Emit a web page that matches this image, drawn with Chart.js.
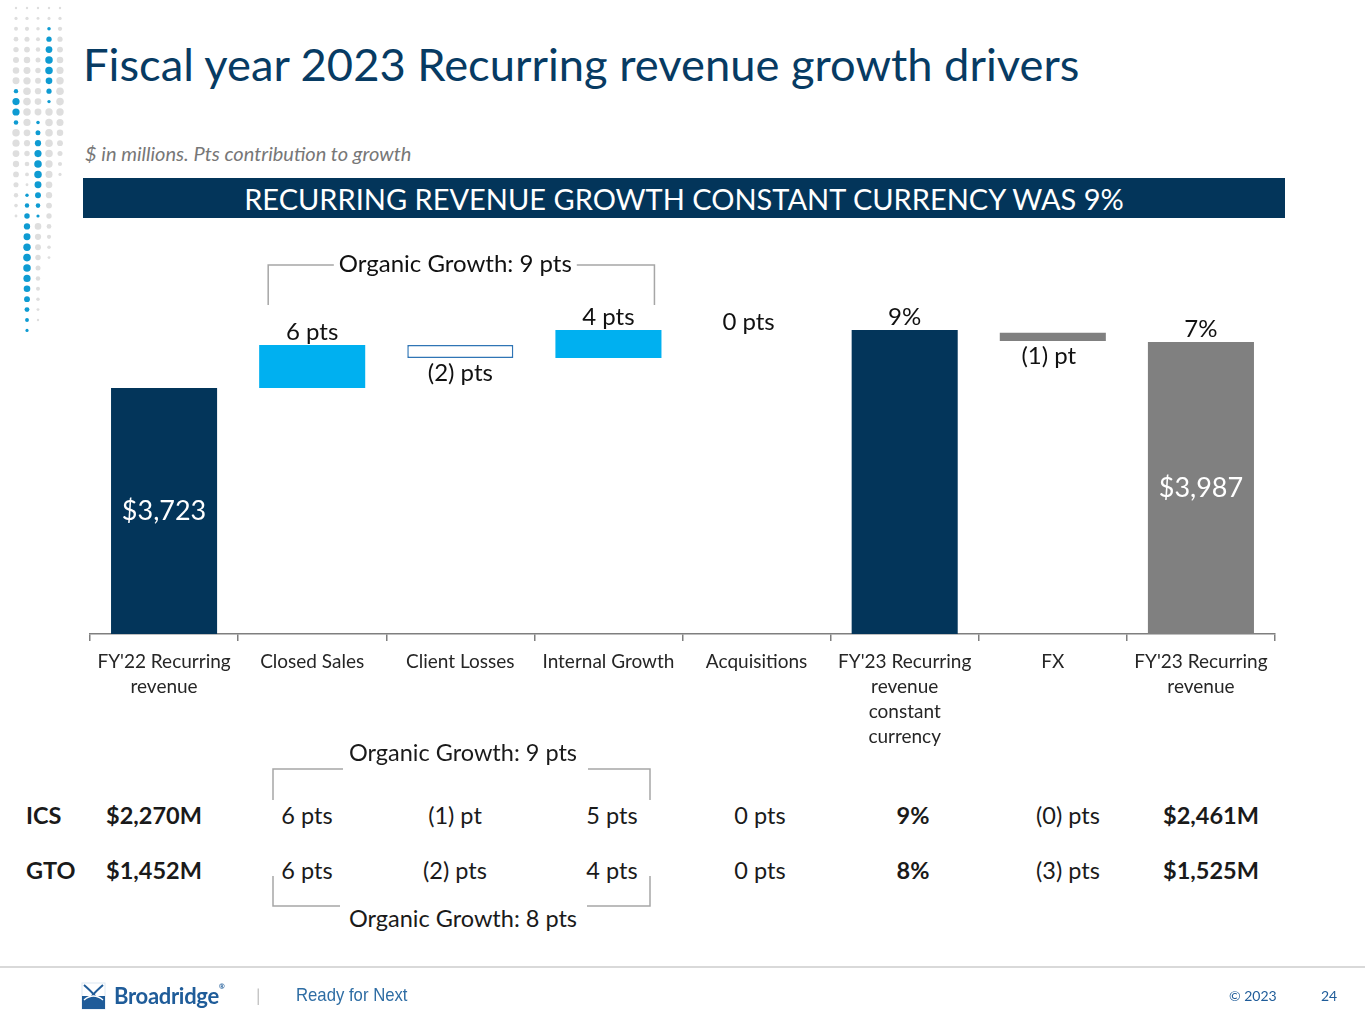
<!DOCTYPE html>
<html>
<head>
<meta charset="utf-8">
<title>Fiscal year 2023 Recurring revenue growth drivers</title>
<script src="https://cdn.jsdelivr.net/npm/chart.js@4.4.1/dist/chart.umd.min.js"></script>
<style>
  body { margin: 0; width: 1365px; height: 1024px; position: relative; overflow: hidden; background: #fff; font-family: Lato, "Open Sans", sans-serif; color: #1a1a1a; }
  .abs { position: absolute; white-space: nowrap; }
  .c { transform: translate(-50%, -50%); }
  .l { transform: translateY(-50%); }
  #title { left: 83px; top: 36px; font-size: 45.3px; color: #073B63; }
  #sub { left: 85px; top: 141px; font-size: 20px; font-style: italic; color: #777777; }
  #banner { left: 83px; top: 178px; width: 1202px; height: 40px; background: #03355A; color: #fff; font-size: 29px; line-height: 42px; text-align: center; }
  #chartBox { position: absolute; left: 0; top: 220px; width: 1365px; height: 560px; }
  .cell { font-size: 23.5px; }
  .b { font-weight: bold; }
  #rule { left: 0; top: 966px; width: 1365px; height: 2px; background: #d9d9d9; }
</style>
</head>
<body>
<canvas id="dots" class="abs" width="70" height="350" style="left:0;top:0"></canvas>
<div id="title" class="abs">Fiscal year 2023 Recurring revenue growth drivers</div>
<div id="sub" class="abs">$ in millions. Pts contribution to growth</div>
<div id="banner" class="abs">RECURRING REVENUE GROWTH CONSTANT CURRENCY WAS 9%</div>
<div id="chartBox"><canvas id="bridge"></canvas></div>
<div id="table"></div>
<svg class="abs" style="left:0;top:0" width="1365" height="1024">
  <g stroke="#a6a6a6" stroke-width="1.5" fill="none">
    <polyline points="273,800 273,769 343,769" />
    <polyline points="588,769 650,769 650,800" />
    <polyline points="273,876 273,906 340,906" />
    <polyline points="587,906 650,906 650,876" />
  </g>
  <!-- footer logo -->
  <rect x="82" y="983" width="23" height="26" fill="#ffffff" stroke="#dce8f2" />
  <rect x="82" y="996" width="23" height="13" fill="#1F5C99" />
  <path d="M84,985 C92,992 96,996 103,1008 M103,985 C95,992 91,996 84,1008" stroke="#1F5C99" stroke-width="2" fill="none" />
  <path d="M84,1000 C90,995 97,995 103,1000" stroke="#ffffff" stroke-width="1.5" fill="none" />
</svg>
<div class="abs" style="left:114px;top:982px;font-size:22px;font-weight:bold;color:#1F5C99;letter-spacing:-0.3px">Broadridge<span style="font-size:7px;vertical-align:top">&reg;</span></div>
<div class="abs" style="left:256px;top:984px;font-size:18px;color:#bfbfbf">|</div>
<div class="abs" style="left:296px;top:984px;font-size:19px;color:#2E6DA4;font-family:'Liberation Sans Narrow','Liberation Sans',sans-serif;transform-origin:left center;transform:scaleX(0.88)">Ready for Next</div>
<div class="abs" style="left:1229px;top:987px;font-size:14px;color:#1F5C99">&copy; 2023</div>
<div class="abs" style="left:1321px;top:987px;font-size:14px;color:#1F5C99">24</div>
<div id="rule" class="abs"></div>

<script>
// ---- chart data ($ in millions, read from the bridge) ----
const categories = [
  ["FY'22 Recurring", "revenue"],
  ["Closed Sales"],
  ["Client Losses"],
  ["Internal Growth"],
  ["Acquisitions"],
  ["FY'23 Recurring", "revenue", "constant", "currency"],
  ["FX"],
  ["FY'23 Recurring", "revenue"]
];
const fy22Revenue = 3723;
const closedSales = [3723, 3970];
const clientLosses = [3970, 3895];
const internalGrowth = [3895, 4056];
const acquisitions = [4056, 4056];
const fy23ConstantCurrency = 4056;
const fxImpact = [4040, 3993];
const fy23Revenue = 3987;
const barLabels = ["$3,723", "6 pts", "(2) pts", "4 pts", "0 pts", "9%", "(1) pt", "7%"];
const axisFloor = 2311;   // truncated value axis
const axisCeil = 4607;

// ---- segment table ----
const segmentNames = ["ICS", "GTO"];
const segmentStart = ["$2,270M", "$1,452M"];
const segmentClosedSales = ["6 pts", "6 pts"];
const segmentClientLosses = ["(1) pt", "(2) pts"];
const segmentInternal = ["5 pts", "4 pts"];
const segmentAcquisitions = ["0 pts", "0 pts"];
const segmentConstantCcy = ["9%", "8%"];
const segmentFx = ["(0) pts", "(3) pts"];
const segmentEnd = ["$2,461M", "$1,525M"];

// ---- left ornament ----
(function drawDots() {
  const c = document.getElementById("dots").getContext("2d");
  const cols = [
    { x: 16, grey: [8, 222], blue: [88, 130] },
    { x: 27, grey: [8, 190], blue: [193, 340] },
    { x: 38, grey: [8, 320], blue: [120, 225] },
    { x: 49, grey: [8, 265], blue: [27, 110] },
    { x: 60, grey: [8, 183], blue: null }
  ];
  cols.forEach(col => {
    for (let y = 8; y <= 342; y += 10.4) {
      let color = null, r = 0;
      if (col.blue && y >= col.blue[0] && y <= col.blue[1]) {
        const t = (y - col.blue[0]) / (col.blue[1] - col.blue[0]);
        color = "#0E9BD2"; r = 1.6 + 2.2 * Math.sin(Math.PI * Math.min(1, t * 1.1));
      } else if (y >= col.grey[0] && y <= col.grey[1]) {
        const t = (y - col.grey[0]) / (col.grey[1] - col.grey[0]);
        color = "#dedede"; r = 1.2 + 2.6 * Math.sin(Math.PI * t);
      }
      if (!color) continue;
      c.beginPath();
      c.arc(col.x, y, r, 0, Math.PI * 2);
      c.fillStyle = color;
      c.fill();
    }
  });
})();

// ---- table ----
(function buildTable() {
  const box = document.getElementById("table");
  const rowY = [815, 870];
  const centred = [
    { x: 307, vals: segmentClosedSales },
    { x: 455, vals: segmentClientLosses },
    { x: 612, vals: segmentInternal },
    { x: 760, vals: segmentAcquisitions },
    { x: 913, vals: segmentConstantCcy, bold: true },
    { x: 1068, vals: segmentFx },
    { x: 1211, vals: segmentEnd, bold: true }
  ];
  const add = (txt, x, y, cls) => {
    const d = document.createElement("div");
    d.className = "abs cell " + cls;
    d.style.left = x + "px";
    d.style.top = y + "px";
    d.textContent = txt;
    box.appendChild(d);
  };
  segmentNames.forEach((name, i) => {
    add(name, 26, rowY[i], "l b");
    add(segmentStart[i], 106, rowY[i], "l b");
    centred.forEach(col => add(col.vals[i], col.x, rowY[i], "c" + (col.bold ? " b" : "")));
  });
  add("Organic Growth: 9 pts", 463, 752, "c");
  add("Organic Growth: 8 pts", 463, 918, "c");
})();

// ---- bridge chart ----
const barColors = ["#03355A", "#00B0F0", "#FFFFFF", "#00B0F0", "#00B0F0", "#03355A", "#808080", "#808080"];
const barBorders = ["#03355A", "#00B0F0", "#2F75B5", "#00B0F0", "#00B0F0", "#03355A", "#808080", "#808080"];
const labelPlace = ["inside", "above", "below", "above", "above", "above", "below", "above"];

const bridgeLabels = {
  id: "bridgeLabels",
  afterDatasetsDraw(chart) {
    const { ctx, chartArea, scales } = chart;
    const meta = chart.getDatasetMeta(0);
    ctx.save();
    ctx.textAlign = "center";
    ctx.textBaseline = "middle";
    meta.data.forEach((bar, i) => {
      const top = Math.min(bar.y, bar.base);
      const bottom = Math.min(Math.max(bar.y, bar.base), chartArea.bottom);
      let x = bar.x, y;
      if (labelPlace[i] === "inside") {
        ctx.font = "27px Lato";
        ctx.fillStyle = "#ffffff";
        y = (top + bottom) / 2;
      } else {
        ctx.font = "24px Lato";
        ctx.fillStyle = "#111111";
        y = labelPlace[i] === "above" ? top - 13 : bottom + 15;
        if (i === 4) { x -= 8; y += 5; }
        if (i === 6) { x -= 4; }
      }
      ctx.fillText(barLabels[i], x, y);
    });
    ctx.fillStyle = "#ffffff";
    ctx.font = "27px Lato";
    const last = meta.data[7];
    ctx.fillText("$3,987", last.x, (last.y + chartArea.bottom) / 2);

    // organic growth bracket over the three organic drivers
    const xl = scales.x.getPixelForValue(1) - 44;
    const xr = scales.x.getPixelForValue(3) + 46;
    const yb = chartArea.top + 31, yLeg = chartArea.top + 71;
    const text = "Organic Growth: 9 pts";
    ctx.font = "24px Lato";
    const tw = ctx.measureText(text).width;
    const tx = (xl + xr) / 2 - 6;
    ctx.strokeStyle = "#a6a6a6";
    ctx.lineWidth = 1.5;
    ctx.beginPath();
    ctx.moveTo(xl, yLeg); ctx.lineTo(xl, yb); ctx.lineTo(tx - tw / 2 - 5, yb);
    ctx.moveTo(tx + tw / 2 + 5, yb); ctx.lineTo(xr, yb); ctx.lineTo(xr, yLeg);
    ctx.stroke();
    ctx.fillStyle = "#111111";
    ctx.fillText(text, tx, yb - 1);
    ctx.restore();
  }
};

new Chart(document.getElementById("bridge"), {
  type: "bar",
  data: {
    labels: categories,
    datasets: [{
      data: [fy22Revenue, closedSales, clientLosses, internalGrowth, acquisitions, fy23ConstantCurrency, fxImpact, fy23Revenue],
      backgroundColor: barColors,
      borderColor: barBorders,
      borderWidth: [0, 0, 1.5, 0, 0, 0, 0, 0],
      borderSkipped: false,
      categoryPercentage: 1,
      barPercentage: 0.716
    }]
  },
  options: {
    responsive: true,
    maintainAspectRatio: false,
    animation: false,
    layout: { padding: { top: 14, left: 90, right: 90, bottom: 0 } },
    plugins: { legend: { display: false }, tooltip: { enabled: false } },
    scales: {
      y: { display: false, min: axisFloor, max: axisCeil },
      x: {
        afterFit: (s) => { s.height = 146; },
        border: { display: true, color: "#7f7f7f", width: 1.5 },
        grid: { display: true, offset: true, drawOnChartArea: false, drawTicks: true, tickLength: 7, color: "#7f7f7f", lineWidth: 1.5 },
        ticks: {
          autoSkip: false, maxRotation: 0, padding: 8, color: "#262626",
          font: { family: "Lato", size: 19, lineHeight: 1.316 }
        }
      }
    }
  },
  plugins: [bridgeLabels]
});
</script>
</body>
</html>
